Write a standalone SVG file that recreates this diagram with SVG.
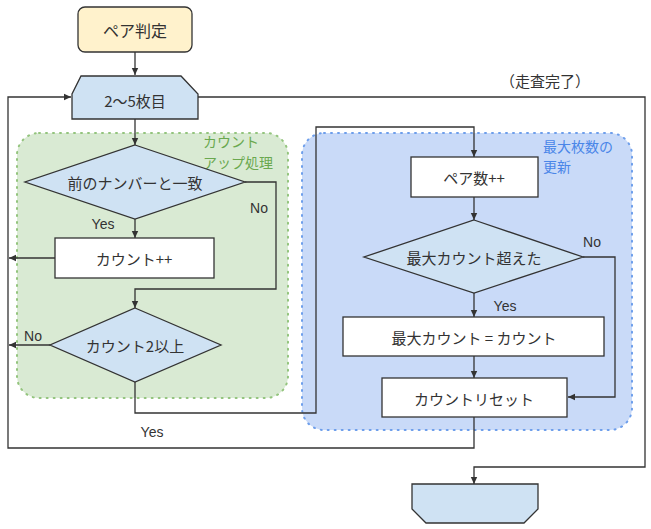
<svg xmlns="http://www.w3.org/2000/svg" width="651" height="529" viewBox="0 0 651 529">
<defs>
<marker id="ah" markerWidth="8" markerHeight="8" refX="7" refY="4" orient="auto" markerUnits="userSpaceOnUse">
<path d="M0,0.8 L7,4 L0,7.2 Z" fill="#333"/>
</marker>
<style>
.t{font-family:"Noto Sans CJK JP","Liberation Sans",sans-serif;font-size:15px;fill:#333;text-anchor:middle;dominant-baseline:central}
.lab{font-family:"Liberation Sans","Noto Sans CJK JP",sans-serif;font-size:14px;fill:#333;text-anchor:middle;dominant-baseline:central}
.c{fill:none;stroke:#333;stroke-width:1.3}
.a{marker-end:url(#ah)}
.box{fill:#fff;stroke:#333;stroke-width:1.3}
.dec{fill:#cfe2f3;stroke:#333;stroke-width:1.3}
.gl{font-family:"Noto Sans CJK JP",sans-serif;font-size:14px;fill:#6aa84f}
.bl{font-family:"Noto Sans CJK JP",sans-serif;font-size:14px;fill:#4a86e8}
</style>
</defs>
<rect width="651" height="529" fill="#fff"/>

<g id="group-countup">
<rect x="17" y="133" width="271" height="265" rx="22" fill="#d9ead3" stroke="#93c47d" stroke-width="2" stroke-dasharray="1 6" stroke-linecap="round"/>
<text class="gl" x="203" y="141" dominant-baseline="central">カウント</text>
<text class="gl" x="203" y="162" dominant-baseline="central">アップ処理</text>
</g>
<g id="group-max">
<rect x="302" y="133" width="330" height="297" rx="22" fill="#c9daf8" stroke="#6d9eeb" stroke-width="2" stroke-dasharray="1 6" stroke-linecap="round"/>
<text class="bl" x="543" y="146" dominant-baseline="central">最大枚数の</text>
<text class="bl" x="543" y="166" dominant-baseline="central">更新</text>
</g>

<g id="connectors">
<path class="c a" d="M135,52 V75"/>
<path class="c a" d="M135,119 V145"/>
<path class="c a" d="M135,219 V238"/>
<path class="c a" d="M55,258 H9"/>
<path class="c a" d="M245,182 H276 V289 H135 V308"/>
<path class="c a" d="M50,345 H9"/>
<path class="c a" d="M135,382 V413 H316 V127 H474 V157"/>
<path class="c a" d="M474,197 V220"/>
<path class="c a" d="M583,257 H615 V397 H568"/>
<path class="c a" d="M474,293 V317"/>
<path class="c a" d="M474,356 V378"/>
<path class="c a" d="M474,417 V448 H8 V97 H71"/>
<path class="c a" d="M198,97 H645 V467 H474 V484"/>
<text class="lab" x="259" y="208">No</text>
<text class="lab" x="103" y="224">Yes</text>
<text class="lab" x="33" y="336">No</text>
<text class="lab" x="152" y="432">Yes</text>
<text class="lab" x="592" y="242">No</text>
<text class="lab" x="505" y="306">Yes</text>
<text class="t" x="545" y="80">（走査完了）</text>
</g>

<g id="start">
<rect x="78" y="7" width="114" height="45" rx="7" fill="#fff2cc" stroke="#333" stroke-width="1.3"/>
<text class="t" x="135" y="30" style="font-size:16px">ペア判定</text>
</g>
<g id="loop-start">
<path class="dec" d="M81,76 H181 L198,94 V119 H72 V94 Z"/>
<text class="t" x="135" y="100">2〜5枚目</text>
</g>
<g id="dec-match">
<path class="dec" d="M135,145 L245,182 L135,219 L25,182 Z"/>
<text class="t" x="135" y="182">前のナンバーと一致</text>
</g>
<g id="count-inc">
<rect class="box" x="55" y="238" width="159" height="40"/>
<text class="t" x="134" y="258">カウント++</text>
</g>
<g id="dec-count2">
<path class="dec" d="M135,308 L221,345 L135,382 L50,345 Z"/>
<text class="t" x="135" y="345">カウント2以上</text>
</g>
<g id="pair-inc">
<rect class="box" x="411" y="157" width="127" height="40"/>
<text class="t" x="474" y="177">ペア数++</text>
</g>
<g id="dec-max">
<path class="dec" d="M474,220 L583,257 L474,293 L364,257 Z"/>
<text class="t" x="474" y="257">最大カウント超えた</text>
</g>
<g id="max-set">
<rect class="box" x="343" y="317" width="261" height="39"/>
<text class="t" x="474" y="337">最大カウント = カウント</text>
</g>
<g id="count-reset">
<rect class="box" x="382" y="378" width="185" height="39"/>
<text class="t" x="474" y="398">カウントリセット</text>
</g>
<g id="loop-end">
<path class="dec" d="M412,484 H538 V509 L524,523 H426 L412,509 Z"/>
</g>
</svg>
